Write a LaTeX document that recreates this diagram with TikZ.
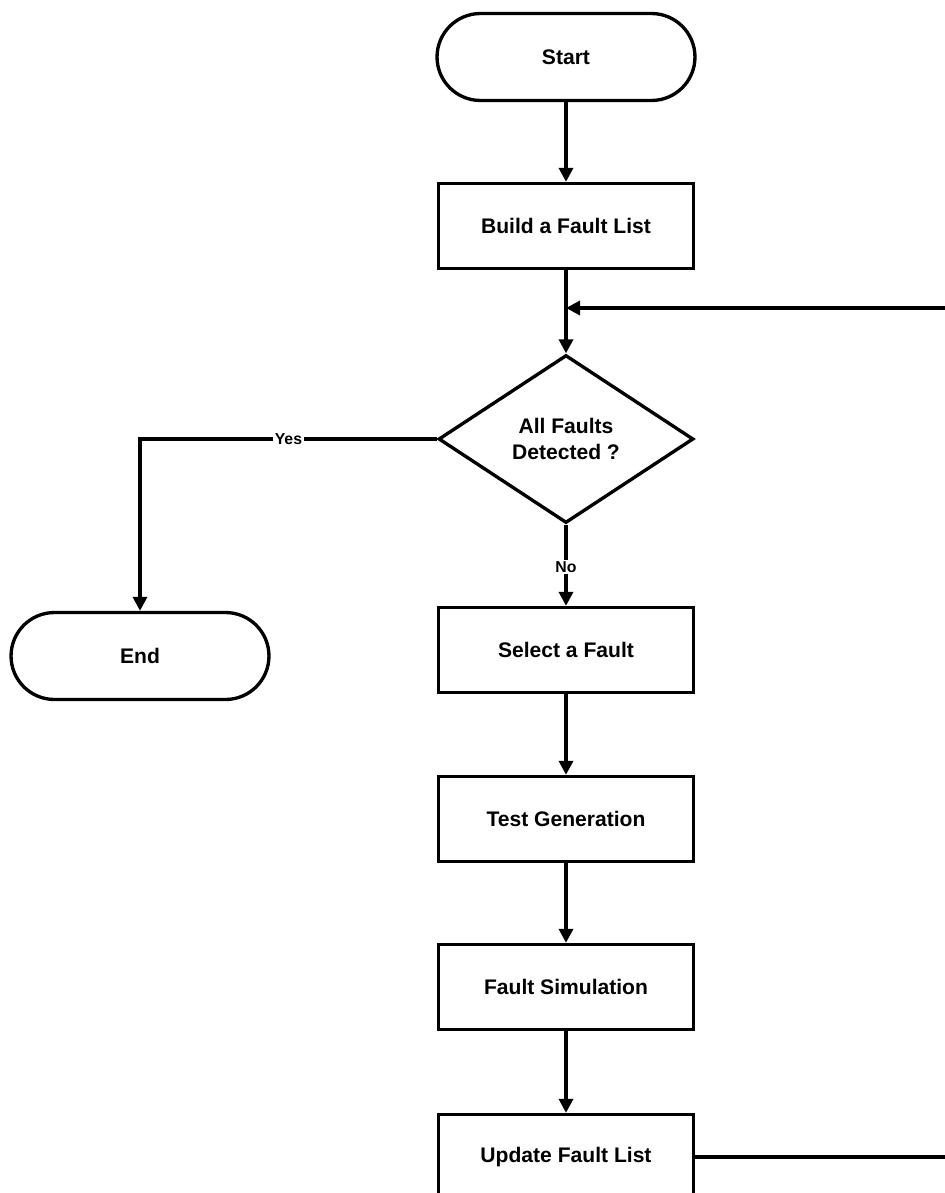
\documentclass[tikz,border=0pt]{standalone}
\usepackage{fontspec}
\setmainfont{Liberation Sans}
\usetikzlibrary{shapes.misc,shapes.geometric,arrows.meta}
\tikzset{
  base/.style={draw=black, line width=1.9pt, font=\bfseries\fontsize{12}{14.5}\selectfont, align=center, inner sep=0pt, fill=white},
  term/.style={base, rounded rectangle, minimum width=5.16cm, minimum height=1.74cm},
  proc/.style={base, rectangle, minimum width=5.1cm, minimum height=1.7cm},
  decis/.style={base, diamond, minimum width=5.1cm, minimum height=3.36cm},
  conn/.style={draw=black, line width=1.9pt, -{Triangle[length=8pt,width=8pt]}},
  lbl/.style={font=\bfseries\fontsize{9}{11}\selectfont, fill=white, inner sep=1pt}
}
\begin{document}
\begin{tikzpicture}[x=0.02cm, y=-0.02cm]
\useasboundingbox (0,0) rectangle (945,1193);
\clip (0,0) rectangle (945,1193);
\fill[white] (0,0) rectangle (945,1193);
\node[term]  (start)  at (566,57)   {Start};
\node[proc]  (build)  at (566,226)  {Build a Fault List};
\node[decis] (dec)    at (566,439)  {All Faults\\Detected ?};
\node[term]  (end)    at (140,656)  {End};
\node[proc]  (select) at (566,650)  {Select a Fault};
\node[proc]  (test)   at (566,819)  {Test Generation};
\node[proc]  (fsim)   at (566,987)  {Fault Simulation};
\node[proc]  (update) at (566,1157) {Update Fault List};
\coordinate (join) at (566,308);
\coordinate (rb) at (952,1157);
\coordinate (rt) at (952,308);
\draw[conn] (start.south) -- (build.north);
\draw[conn] (build.south) -- (dec.north);
\draw[conn] (dec.west) -| node[lbl, pos=0.25] {Yes} (end.north);
\draw[conn] (dec.south) -- node[lbl, pos=0.52] {No} (select.north);
\draw[conn] (select.south) -- (test.north);
\draw[conn] (test.south) -- (fsim.north);
\draw[conn] (fsim.south) -- (update.north);
\draw[conn] (update.east) -- (rb) -- (rt) -- (join);
\end{tikzpicture}
\end{document}
